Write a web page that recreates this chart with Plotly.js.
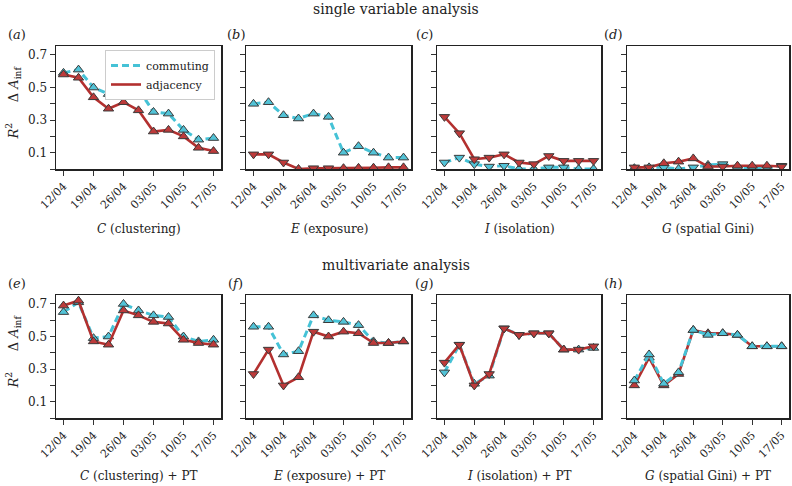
<!DOCTYPE html>
<html>
<head>
<meta charset="utf-8">
<script src="https://cdn.plot.ly/plotly-3.0.1.min.js"></script>
<style>html,body{margin:0;padding:0;background:#fff;}#chart{width:792px;height:486px;}</style>
</head>
<body>
<div id="chart"></div>
<script>
// ---- data ----
const dates = ['2020-04-12','2020-04-15 12:00','2020-04-19','2020-04-22 12:00','2020-04-26','2020-04-29 12:00','2020-05-03','2020-05-06 12:00','2020-05-10','2020-05-13 12:00','2020-05-17'];
const tickDates = ['2020-04-12','2020-04-19','2020-04-26','2020-05-03','2020-05-10','2020-05-17'];
const tickLabels = ['12/04','19/04','26/04','03/05','10/05','17/05'];
const yTickVals = [0.1,0.3,0.5,0.7];
const yTickText = ['0.1','0.3','0.5','0.7'];
const seriesNames = ['commuting','adjacency'];
const panelLetters = ['a','b','c','d','e','f','g','h'];
const panelTitles = ['<i>C</i> (clustering)','<i>E</i> (exposure)','<i>I</i> (isolation)','<i>G</i> (spatial Gini)',
  '<i>C</i> (clustering) + PT','<i>E</i> (exposure) + PT','<i>I</i> (isolation) + PT','<i>G</i> (spatial Gini) + PT'];
const sectionTitles = ['single variable analysis','multivariate analysis'];

// single variable analysis
const commC = [0.59,0.61,0.50,0.46,0.50,0.49,0.35,0.34,0.24,0.18,0.19];
const adjC  = [0.58,0.56,0.44,0.37,0.41,0.36,0.23,0.24,0.20,0.13,0.11];
const commE = [0.40,0.41,0.33,0.31,0.34,0.32,0.10,0.14,0.10,0.07,0.07];
const adjE  = [0.09,0.09,0.04,0.00,0.005,0.005,0.005,0.007,0.008,0.01,0.01];
const commI = [0.04,0.07,0.03,0.015,0.02,0.00,0.00,0.01,0.01,0.00,0.00];
const adjI  = [0.32,0.22,0.06,0.07,0.09,0.04,0.03,0.08,0.05,0.05,0.05];
const commG = [0.005,0.01,0.01,0.00,0.01,0.025,0.03,0.01,0.005,0.005,0.02];
const adjG  = [0.01,0.01,0.035,0.045,0.065,0.015,0.015,0.02,0.02,0.02,0.015];
// multivariate analysis
const commCPT = [0.65,0.71,0.49,0.50,0.70,0.66,0.63,0.62,0.50,0.47,0.48];
const adjCPT  = [0.69,0.72,0.47,0.45,0.66,0.63,0.59,0.58,0.48,0.46,0.45];
const commEPT = [0.56,0.56,0.39,0.41,0.63,0.60,0.59,0.57,0.47,0.46,0.47];
const adjEPT  = [0.27,0.42,0.20,0.25,0.53,0.50,0.53,0.52,0.46,0.46,0.47];
const commIPT = [0.28,0.45,0.21,0.26,0.55,0.51,0.52,0.52,0.42,0.42,0.43];
const adjIPT  = [0.34,0.45,0.20,0.27,0.55,0.51,0.52,0.52,0.42,0.42,0.44];
const commGPT = [0.23,0.39,0.21,0.28,0.54,0.51,0.52,0.51,0.44,0.44,0.44];
const adjGPT  = [0.20,0.37,0.20,0.27,0.54,0.52,0.52,0.51,0.44,0.44,0.44];

// sign of the association (+1 = up triangle, -1 = down triangle)
const commSign = [
  [1,1,1,1,1,1,1,1,1,1,1],
  [1,1,1,1,1,1,1,1,1,1,1],
  [-1,-1,-1,-1,-1,1,1,-1,-1,1,1],
  [1,1,-1,1,-1,1,-1,1,-1,-1,-1],
  [1,1,1,1,1,1,1,1,1,1,1],
  [1,1,1,1,1,1,1,1,1,1,1],
  [-1,-1,1,1,-1,-1,-1,-1,1,1,1],
  [1,1,1,1,1,1,1,1,1,1,1]
];
const adjSign = [
  [1,1,1,1,1,1,1,1,1,1,1],
  [-1,-1,-1,1,-1,-1,1,1,1,1,1],
  [-1,-1,-1,-1,-1,-1,-1,-1,-1,-1,-1],
  [-1,-1,1,1,1,1,-1,1,1,1,-1],
  [1,1,1,1,1,1,1,1,1,1,1],
  [-1,-1,-1,1,-1,1,1,1,1,1,1],
  [-1,-1,-1,-1,-1,-1,-1,-1,1,-1,-1],
  [1,1,1,1,1,1,1,1,1,1,1]
];
const commSeries = [commC, commE, commI, commG, commCPT, commEPT, commIPT, commGPT];
const adjSeries  = [adjC, adjE, adjI, adjG, adjCPT, adjEPT, adjIPT, adjGPT];

// ---- styling / layout ----
const serif = 'DejaVu Serif';
const cyan = '#45c2d6', cyanFill = '#52c3d7';
const red = '#b3302f', redFill = '#bd3a3a';
const W = 792, H = 486;
const colPx = [[56,221],[246,411],[437,601],[627,789]];
const rowPx = [[46,169],[295,418]];
const labelX = [17,236,424,613];
const labelY = [34,283];
const titleY = [229,476];

const traces = [];
const layout = {
  width: W, height: H,
  margin: {l:0,r:0,t:0,b:0},
  paper_bgcolor: '#fff', plot_bgcolor: '#fff',
  font: {family: serif, color: '#222', size: 12},
  showlegend: true,
  legend: {x: 215/W, y: 1-50/H, xanchor: 'right', yanchor: 'top',
    bgcolor: '#fff', bordercolor: '#cccccc', borderwidth: 1,
    font: {family: serif, size: 11, color: '#222'}, tracegroupgap: 0},
  annotations: [],
  hovermode: false
};

function sym(s){ return s > 0 ? 'triangle-up' : 'triangle-down'; }

for (let p = 0; p < 8; p++) {
  const r = Math.floor(p/4), c = p % 4;
  const xa = p === 0 ? 'x' : 'x' + (p+1);
  const ya = p === 0 ? 'y' : 'y' + (p+1);
  const xk = p === 0 ? 'xaxis' : 'xaxis' + (p+1);
  const yk = p === 0 ? 'yaxis' : 'yaxis' + (p+1);
  layout[xk] = {
    domain: [colPx[c][0]/W, colPx[c][1]/W], anchor: ya, type: 'date',
    range: ['2020-04-10 06:00','2020-05-18 18:00'],
    tickmode: 'array', tickvals: tickDates, ticktext: tickLabels, tickangle: -45,
    ticks: 'outside', ticklen: 5, tickwidth: 1, tickcolor: '#333',
    showline: true, linecolor: '#222', linewidth: 1.5, mirror: true,
    showgrid: false, zeroline: false,
    tickfont: {family: serif, size: 11, color: '#222'}
  };
  layout[yk] = {
    domain: [1-rowPx[r][1]/H, 1-rowPx[r][0]/H], anchor: xa,
    range: [0, 0.755],
    tickmode: 'array', tickvals: yTickVals, ticktext: yTickText,
    showticklabels: c === 0,
    ticks: 'outside', ticklen: 5, tickwidth: 1, tickcolor: '#333',
    minor: {tick0: 0, dtick: 0.1, ticks: 'outside', ticklen: 5, tickwidth: 1, tickcolor: '#333', showgrid: false},
    showline: true, linecolor: '#222', linewidth: 1.5, mirror: true,
    showgrid: false, zeroline: false,
    tickfont: {family: serif, size: 12, color: '#222'}
  };
  const comm = {
    line: {x: dates, y: commSeries[p], xaxis: xa, yaxis: ya, mode: 'lines', name: seriesNames[0],
      legendgroup: 'c', showlegend: p === 0,
      line: {color: cyan, width: 3, dash: '7px,4px'}},
    mk: {x: dates, y: commSeries[p], xaxis: xa, yaxis: ya, mode: 'markers', showlegend: false,
      marker: {symbol: commSign[p].map(sym), size: 9, color: cyanFill, line: {color: '#3a3a3a', width: 1}}}
  };
  const adj = {
    line: {x: dates, y: adjSeries[p], xaxis: xa, yaxis: ya, mode: 'lines', name: seriesNames[1],
      legendgroup: 'a', showlegend: p === 0,
      line: {color: red, width: 2.6}},
    mk: {x: dates, y: adjSeries[p], xaxis: xa, yaxis: ya, mode: 'markers', showlegend: false,
      marker: {symbol: adjSign[p].map(sym), size: 9, color: redFill, line: {color: '#3a3a3a', width: 1}}}
  };
  if (p === 7) {
    traces.push(adj.line, adj.mk, comm.line, comm.mk);
  } else {
    traces.push(comm.line, comm.mk, adj.line, adj.mk);
  }
  layout.annotations.push({xref:'paper', yref:'paper', x: labelX[c]/W, y: 1-labelY[r]/H,
    text: '(<i>' + panelLetters[p] + '</i>)', showarrow: false, xanchor: 'center', yanchor: 'middle',
    font: {family: serif, size: 13, color: '#222'}});
  layout.annotations.push({xref:'paper', yref:'paper', x: (colPx[c][0]+colPx[c][1])/2/W, y: 1-titleY[r]/H,
    text: panelTitles[p], showarrow: false, xanchor: 'center', yanchor: 'middle',
    font: {family: serif, size: 12, color: '#222'}});
}
for (let r = 0; r < 2; r++) {
  layout.annotations.push({xref:'paper', yref:'paper', x: 13/W, y: 1-((rowPx[r][0]+rowPx[r][1])/2 - 4)/H,
    text: '<i>R</i><sup>2</sup>&nbsp;&nbsp;&nbsp;&nbsp;&nbsp;Δ <i>A</i><sub>inf</sub>', textangle: -90, showarrow: false,
    xanchor: 'center', yanchor: 'middle', font: {family: serif, size: 13, color: '#222'}});
}
layout.annotations.push({xref:'paper', yref:'paper', x: 0.5, y: 1-9/H, text: sectionTitles[0], showarrow: false,
  xanchor: 'center', yanchor: 'middle', font: {family: serif, size: 14, color: '#222'}});
layout.annotations.push({xref:'paper', yref:'paper', x: 0.5, y: 1-265/H, text: sectionTitles[1], showarrow: false,
  xanchor: 'center', yanchor: 'middle', font: {family: serif, size: 14, color: '#222'}});

Plotly.newPlot('chart', traces, layout, {staticPlot: true, displayModeBar: false});
</script>
</body>
</html>
